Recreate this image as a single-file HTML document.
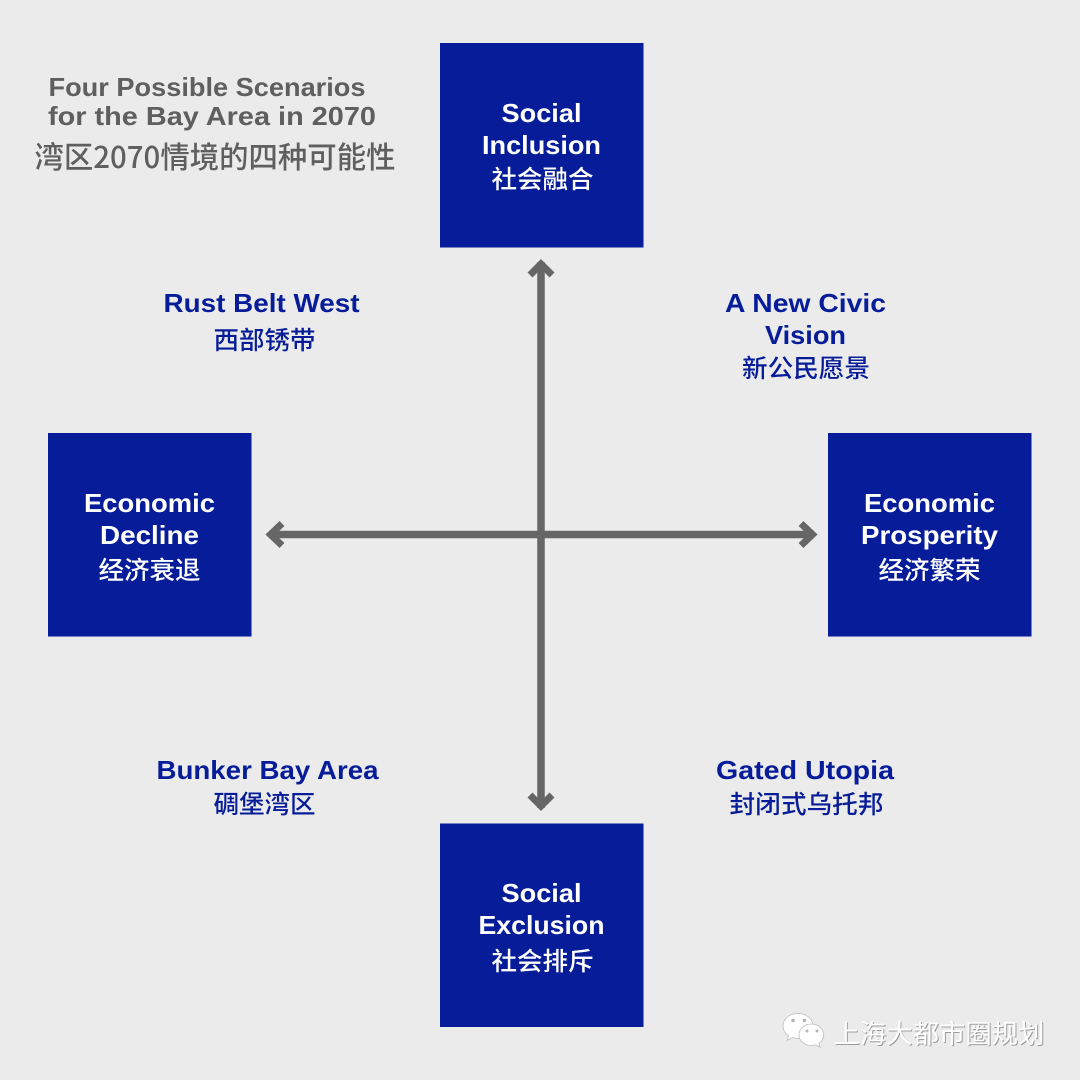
<!DOCTYPE html>
<html><head><meta charset="utf-8"><style>
html,body{margin:0;padding:0;background:#ebebeb}
svg{display:block}
text{font-family:"Liberation Sans","Noto Sans CJK SC",sans-serif;text-anchor:middle}
.w{fill:#fff;font-weight:700}
.b{fill:#061c99;font-weight:700}
.en{font-size:26px}
.zh{font-size:25px;font-family:"Noto Sans CJK SC",sans-serif;font-weight:500}
.g{fill:#5f5f5f}
.wm{font-family:"Noto Sans CJK SC",sans-serif;font-size:26px;font-weight:400}
</style></head><body>
<svg width="1080" height="1080" viewBox="0 0 1080 1080" xmlns="http://www.w3.org/2000/svg">
<rect width="1080" height="1080" fill="#ebebeb"/>
<g fill="#061c99">
<rect x="440" y="43" width="203.500" height="204.500"/>
<rect x="48" y="433" width="203.500" height="203.500"/>
<rect x="828" y="433" width="203.500" height="203.500"/>
<rect x="440" y="823.500" width="203.500" height="203.500"/>
</g>
<g stroke="#666" stroke-width="7.500" fill="none">
<line x1="541" y1="262" x2="541" y2="808"/>
<line x1="269" y1="534.500" x2="814" y2="534.500"/>
<polyline points="530,275 541,264 552,275" stroke-width="7"/>
<polyline points="530,795 541,806 552,795" stroke-width="7"/>
<polyline points="282,523.500 270.500,534.500 282,545.500" stroke-width="7"/>
<polyline points="801,523.500 812.500,534.500 801,545.500" stroke-width="7"/>
</g>

<g class="g" style="font-weight:700;font-size:26px">
<text x="207" y="96" textLength="317" lengthAdjust="spacingAndGlyphs">Four Possible Scenarios</text>
<text x="212" y="125" textLength="328" lengthAdjust="spacingAndGlyphs">for the Bay Area in 2070</text>
</g>
<text class="g" x="215" y="168" style="font-family:'Noto Sans CJK SC',sans-serif;font-size:30px;font-weight:500" textLength="361" lengthAdjust="spacingAndGlyphs">湾区2070情境的四种可能性</text>

<text class="w en" x="541.500" y="122" textLength="80" lengthAdjust="spacingAndGlyphs">Social</text>
<text class="w en" x="541.500" y="154" textLength="119" lengthAdjust="spacingAndGlyphs">Inclusion</text>
<text class="w zh" x="542.500" y="188" textLength="102" lengthAdjust="spacingAndGlyphs">社会融合</text>

<text class="w en" x="149.500" y="512" textLength="131" lengthAdjust="spacingAndGlyphs">Economic</text>
<text class="w en" x="149.500" y="544" textLength="99" lengthAdjust="spacingAndGlyphs">Decline</text>
<text class="w zh" x="149.500" y="579" textLength="102" lengthAdjust="spacingAndGlyphs">经济衰退</text>

<text class="w en" x="929.500" y="512" textLength="131" lengthAdjust="spacingAndGlyphs">Economic</text>
<text class="w en" x="929.500" y="544" textLength="137" lengthAdjust="spacingAndGlyphs">Prosperity</text>
<text class="w zh" x="929.500" y="579" textLength="102" lengthAdjust="spacingAndGlyphs">经济繁荣</text>

<text class="w en" x="541.500" y="902" textLength="80" lengthAdjust="spacingAndGlyphs">Social</text>
<text class="w en" x="541.500" y="934" textLength="126" lengthAdjust="spacingAndGlyphs">Exclusion</text>
<text class="w zh" x="542.500" y="970" textLength="102" lengthAdjust="spacingAndGlyphs">社会排斥</text>

<text class="b en" x="261.500" y="312" textLength="196" lengthAdjust="spacingAndGlyphs">Rust Belt West</text>
<text class="b zh" x="264.500" y="349" textLength="102" lengthAdjust="spacingAndGlyphs">西部锈带</text>

<text class="b en" x="805.500" y="312" textLength="161" lengthAdjust="spacingAndGlyphs">A New Civic</text>
<text class="b en" x="805.500" y="344" textLength="81" lengthAdjust="spacingAndGlyphs">Vision</text>
<text class="b zh" x="806" y="377" textLength="128" lengthAdjust="spacingAndGlyphs">新公民愿景</text>

<text class="b en" x="267.500" y="779" textLength="222" lengthAdjust="spacingAndGlyphs">Bunker Bay Area</text>
<text class="b zh" x="264.500" y="813" textLength="102" lengthAdjust="spacingAndGlyphs">碉堡湾区</text>

<text class="b en" x="805" y="779" textLength="178" lengthAdjust="spacingAndGlyphs">Gated Utopia</text>
<text class="b zh" x="806.500" y="813" textLength="154" lengthAdjust="spacingAndGlyphs">封闭式乌托邦</text>

<g>
<g fill="#fff" stroke="#bdbdbd" stroke-width="0.800">
<path d="M798 1013.500c-8.500 0-15 5.500-15 12.500 0 4 2.200 7.500 5.600 9.800l-1.400 4.500 5.300-2.700c1.800.5 3.600.8 5.500.8 8.500 0 15-5.600 15-12.400 0-7-6.500-12.500-15-12.500z"/>
<path d="M811.500 1024c-7 0-12.500 4.800-12.500 10.800s5.500 10.800 12.500 10.800c1.500 0 3-.2 4.300-.7l4.400 2.300-1.100-3.800c2.900-2 4.700-5 4.700-8.600 0-6-5.600-10.800-12.300-10.800z"/>
</g>
<g fill="#b5b5b5"><circle cx="793" cy="1020.500" r="1.800"/><circle cx="804.500" cy="1020.500" r="1.800"/><circle cx="807" cy="1031" r="1.500"/><circle cx="817" cy="1031" r="1.500"/></g>
<text class="wm" x="940" y="1044" fill="#9c9c9c" textLength="211" lengthAdjust="spacingAndGlyphs">上海大都市圈规划</text>
<text class="wm" x="939" y="1043" fill="#fff" textLength="211" lengthAdjust="spacingAndGlyphs">上海大都市圈规划</text>
</g>
</svg>
</body></html>
